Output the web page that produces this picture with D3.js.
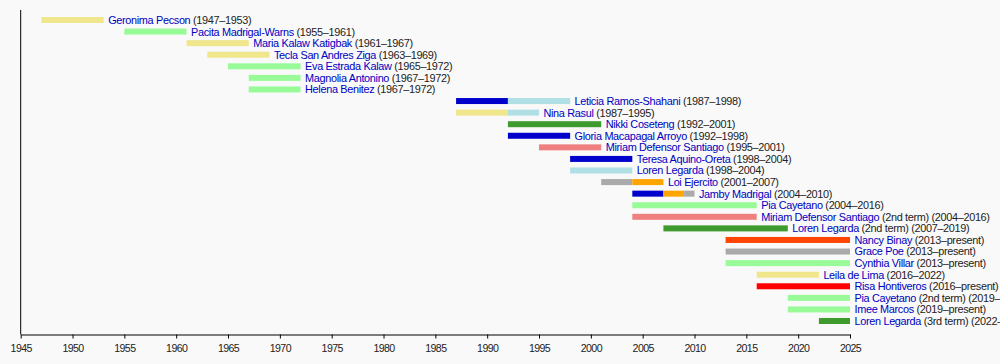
<!DOCTYPE html>
<html>
<head>
<meta charset="utf-8">
<script src="https://cdn.jsdelivr.net/npm/d3@7"></script>
<style>
  html, body { margin: 0; padding: 0; background: #f9f9f9; }
  svg { display: block; font-family: "Liberation Sans", Arial, sans-serif; }
</style>
</head>
<body>
<svg id="chart" width="1000" height="364"></svg>
<script>
// ---- data ----
const names = [
  "Geronima Pecson", "Pacita Madrigal-Warns", "Maria Kalaw Katigbak", "Tecla San Andres Ziga",
  "Eva Estrada Kalaw", "Magnolia Antonino", "Helena Benitez", "Leticia Ramos-Shahani",
  "Nina Rasul", "Nikki Coseteng", "Gloria Macapagal Arroyo", "Miriam Defensor Santiago",
  "Teresa Aquino-Oreta", "Loren Legarda", "Loi Ejercito", "Jamby Madrigal", "Pia Cayetano",
  "Miriam Defensor Santiago", "Loren Legarda", "Nancy Binay", "Grace Poe", "Cynthia Villar",
  "Leila de Lima", "Risa Hontiveros", "Pia Cayetano", "Imee Marcos", "Loren Legarda"
];
const notes = [
  "(1947–1953)", "(1955–1961)", "(1961–1967)", "(1963–1969)", "(1965–1972)", "(1967–1972)",
  "(1967–1972)", "(1987–1998)", "(1987–1995)", "(1992–2001)", "(1992–1998)", "(1995–2001)",
  "(1998–2004)", "(1998–2004)", "(2001–2007)", "(2004–2010)", "(2004–2016)",
  "(2nd term) (2004–2016)", "(2nd term) (2007–2019)", "(2013–present)", "(2013–present)",
  "(2013–present)", "(2016–2022)", "(2016–present)", "(2nd term) (2019–present)",
  "(2019–present)", "(3rd term) (2022–present)"
];
// segments per row: [start, end, party]
const segments = [
  [[1947, 1953, "NP"]],
  [[1955, 1961, "LP"]],
  [[1961, 1967, "NP"]],
  [[1963, 1969, "NP"]],
  [[1965, 1972, "LP"]],
  [[1967, 1972, "LP"]],
  [[1967, 1972, "LP"]],
  [[1987, 1992, "LDP"], [1992, 1998, "LAKAS"]],
  [[1987, 1992, "NP"], [1992, 1995, "LAKAS"]],
  [[1992, 2001, "NPC"]],
  [[1992, 1998, "LDP"]],
  [[1995, 2001, "PRP"]],
  [[1998, 2004, "LDP"]],
  [[1998, 2004, "LAKAS"]],
  [[2001, 2004, "IND"], [2004, 2007, "PMP"]],
  [[2004, 2007, "LDP"], [2007, 2009, "PMP"], [2009, 2010, "IND"]],
  [[2004, 2016, "LP"]],
  [[2004, 2016, "PRP"]],
  [[2007, 2019, "NPC"]],
  [[2013, 2025, "UNA"]],
  [[2013, 2025, "IND"]],
  [[2013, 2025, "LP"]],
  [[2016, 2022, "NP"]],
  [[2016, 2025, "AKB"]],
  [[2019, 2025, "LP"]],
  [[2019, 2025, "LP"]],
  [[2022, 2025, "NPC"]]
];
const partyColors = {
  NP: "#f0e68c", LP: "#98fb98", LDP: "#0000cd", LAKAS: "#b0e0e6", NPC: "#3f9b2d",
  PRP: "#f08080", PMP: "#ffa500", IND: "#aaaaaa", UNA: "#ff4500", AKB: "#ff0000"
};
const tickYears = d3.range(1945, 2026, 5);

// ---- chart ----
const svg = d3.select("#chart");
const x = d3.scaleLinear().domain([1945, 2025]).range([20.7, 850]);
const y = d3.scalePoint().domain(d3.range(names.length)).range([20, 321]);
const barH = 6;

const rows = svg.append("g").selectAll("g").data(names).join("g")
  .attr("transform", (d, i) => `translate(0,${y(i)})`);

rows.selectAll("rect").data((d, i) => segments[i]).join("rect")
  .attr("x", s => x(s[0]))
  .attr("width", s => x(s[1]) - x(s[0]))
  .attr("y", -barH / 2)
  .attr("height", barH)
  .attr("fill", s => partyColors[s[2]]);

const label = rows.append("text")
  .attr("x", (d, i) => x(d3.max(segments[i], s => s[1])) + 4.5)
  .attr("y", 0)
  .attr("dy", "0.36em")
  .attr("font-size", 10.9)
  .attr("letter-spacing", -0.33);
label.append("tspan").attr("fill", "#0000c0").text(d => d);
label.append("tspan").attr("fill", "#222").text((d, i) => " " + notes[i]);

// axes
const axisY = 334.5;
svg.append("line")
  .attr("x1", x(1945)).attr("x2", x(1945))
  .attr("y1", 10).attr("y2", axisY)
  .attr("stroke", "#000").attr("stroke-width", 1);

const xAxis = svg.append("g")
  .attr("transform", `translate(0,${axisY})`)
  .call(d3.axisBottom(x).tickValues(tickYears).tickFormat(d3.format("d")).tickSize(4).tickSizeOuter(0));
xAxis.select(".domain").attr("stroke", "#000");
xAxis.selectAll(".tick line").attr("stroke", "#000");
xAxis.selectAll(".tick text")
  .attr("font-family", "'Liberation Sans', Arial, sans-serif")
  .attr("font-size", 10.6).attr("letter-spacing", -0.6).attr("fill", "#222").attr("y", 9.5);
</script>
</body>
</html>
